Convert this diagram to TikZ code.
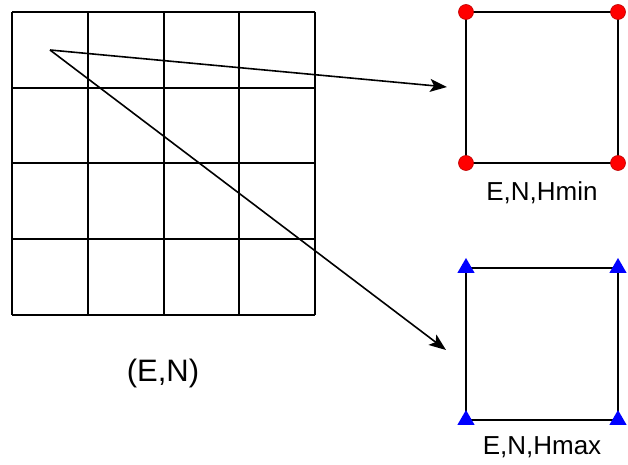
\documentclass[tikz,border=0pt]{standalone}
\usepackage{fontspec}
\setmainfont{Liberation Sans}
\usetikzlibrary{arrows.meta,shapes.geometric}

\begin{document}
\begin{tikzpicture}[x=0.5pt,y=-0.5pt,
  cell/.style={line width=1pt},
  face/.style={line width=1pt},
  lowpt/.style={circle,fill=red,draw=red!75!black,line width=0.3pt,
                minimum size=7.5pt,inner sep=0pt},
  highpt/.style={regular polygon,regular polygon sides=3,fill=blue,
                 minimum size=10pt,inner sep=0pt},
  arr/.style={-{Stealth[length=8.5pt,width=6.5pt,inset=2pt]},line width=0.8pt},
  lbl/.style={font=\fontsize{13}{15}\selectfont},
  biglbl/.style={font=\fontsize{15.5}{18}\selectfont}
]
  \useasboundingbox (0,0) rectangle (628,465);

  % ---- Horizontal grid (E,N) ----------------------------------
  \foreach \i in {0,...,4} {
    \draw[cell] (12+75.75*\i,12) -- (12+75.75*\i,315);
    \draw[cell] (12,12+75.75*\i) -- (315,12+75.75*\i);
  }
  \node[biglbl] (grid) at (163,373) {(E,N)};

  % ---- Lower face (Hmin) --------------------------------------
  \coordinate (lnw) at (466,12);
  \coordinate (lne) at (618,12);
  \coordinate (lse) at (618,163);
  \coordinate (lsw) at (466,163);
  \draw[face] (lnw) -- (lne) -- (lse) -- (lsw) -- cycle;
  \foreach \c in {lnw,lne,lse,lsw}
    \node[lowpt] (\c-dot) at (\c) {};
  \node[lbl] (hmin) at (542,193) {E,N,Hmin};

  % ---- Upper face (Hmax) --------------------------------------
  \coordinate (unw) at (466,268);
  \coordinate (une) at (618,268);
  \coordinate (use) at (618,420);
  \coordinate (usw) at (466,420);
  \draw[face] (unw) -- (une) -- (use) -- (usw) -- cycle;
  \foreach \c in {unw,une,use,usw}
    \node[highpt] (\c-tri) at (\c) {};
  \node[lbl] (hmax) at (542,447) {E,N,Hmax};

  % Arrows from the cell to both faces
  \coordinate (src) at (50,50);
  \coordinate (tolow) at (447,87);
  \coordinate (tohigh) at (446,350);
  \draw[arr] (src) -- (tolow);
  \draw[arr] (src) -- (tohigh);

\end{tikzpicture}
\end{document}
